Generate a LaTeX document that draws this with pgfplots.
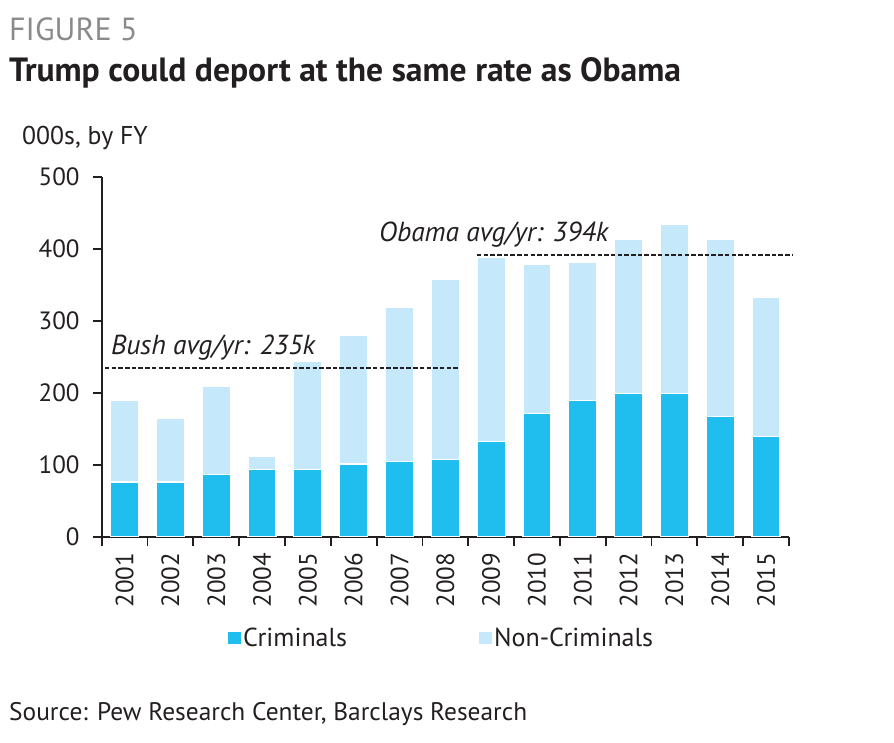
\documentclass[border=0pt]{standalone}
\usepackage{fontspec}
\setmainfont{PT Sans}
\usepackage{pgfplots}
\usepackage{pgfplotstable}
\pgfplotsset{compat=1.18}
\definecolor{crim}{HTML}{20BEEF}
\definecolor{noncrim}{HTML}{C5E9FA}
\definecolor{txt}{HTML}{231F20}
\definecolor{figgray}{HTML}{8A8A8A}

\pgfplotstableread{
x year crim non
0 2001 76 113
1 2002 76 88
2 2003 87 122
3 2004 93 18
4 2005 93 151
5 2006 101 179
6 2007 104 215
7 2008 107 250
8 2009 132 256
9 2010 171 207
10 2011 189 192
11 2012 199 214
12 2013 199 235
13 2014 167 246
14 2015 139 193
}\data

\pgfplotsset{
  common/.style={
    anchor=south west,
    scale only axis, width=687.3pt, height=359.7pt,
    xmin=-0.5, xmax=14.5, ymin=0, ymax=500,
  }
}

\begin{document}
\begin{tikzpicture}[x=1pt,y=1pt]
\useasboundingbox (0,0) rectangle (894,742);
\node[anchor=base west, inner sep=0, text=figgray, font=\fontsize{32}{40}\selectfont] at (9,701) {FIGURE 5};
\node[anchor=base west, inner sep=0, text=txt, font=\fontsize{33.6}{40}\selectfont\bfseries] at (9,660) {Trump could deport at the same rate as Obama};
\node[anchor=base west, inner sep=0, text=txt, font=\fontsize{25.7}{30}\selectfont] at (22,597) {000s, by FY};
\node[anchor=base west, inner sep=0, text=txt, font=\fontsize{25.4}{30}\selectfont] at (9,22) {Source: Pew Research Center, Barclays Research};

\begin{scope}[shift={(101.7pt,205.3pt)}]
\begin{axis}[common, at={(0pt,0pt)},
  ybar stacked, bar width=28pt,
  axis x line*=bottom, axis y line*=left,
  axis line style={txt, line width=1.8pt, -},
  ytick={0,100,...,500},
  xtick={-0.5,0.5,...,14.5},
  x tick label as interval,
  xticklabels={2001,2002,2003,2004,2005,2006,2007,2008,2009,2010,2011,2012,2013,2014,2015},
  tick align=outside, major tick length=9pt,
  tick style={txt, line width=1.8pt},
  /pgf/number format/assume math mode=true,
  tick label style={font=\fontsize{25}{30}\selectfont, text=txt},
  xticklabel style={rotate=90, anchor=east, inner sep=7pt},
  yticklabel style={anchor=east, inner sep=13pt},
  legend style={at={(0.1838,-0.248)}, anchor=north west, draw=none, fill=none,
    legend columns=2, font=\fontsize{26}{30}\selectfont, text=txt, inner sep=0pt,
    /tikz/every even column/.append style={column sep=130pt}},
  legend cell align=left,
  legend image code/.code={\fill[#1, draw=none] (0pt,-6pt) rectangle (13pt,6pt);},
]
\addplot[fill=crim, draw=white, line width=1.2pt] table[x=x, y=crim]{\data};
\addplot[fill=noncrim, draw=white, line width=1.2pt] table[x=x, y=non]{\data};
\legend{Criminals, Non-Criminals}
\end{axis}

\begin{axis}[common, at={(0pt,0pt)}, hide axis, clip=false]
\addplot[txt, dash pattern=on 4.5pt off 2.2pt, line width=1.8pt] coordinates {(-0.43,235) (7.28,235)};
\addplot[txt, dash pattern=on 4.5pt off 2.2pt, line width=1.8pt] coordinates {(7.69,392) (14.59,392)};
\node[anchor=base west, inner sep=0, text=txt, font=\fontsize{27.5}{30}\selectfont\itshape] at (axis cs:-0.30,253) {Bush avg/yr: 235k};
\node[anchor=base west, inner sep=0, text=txt, font=\fontsize{27.5}{30}\selectfont\itshape] at (axis cs:5.55,410) {Obama avg/yr: 394k};
\end{axis}
\end{scope}
\end{tikzpicture}
\end{document}
